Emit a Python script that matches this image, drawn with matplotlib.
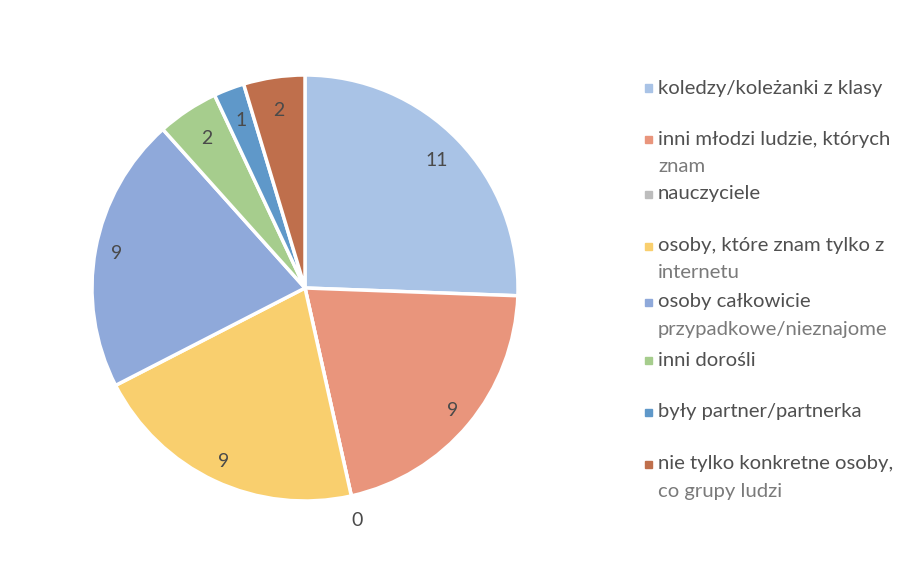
import numpy as np
import matplotlib
matplotlib.use("Agg")
from matplotlib import pyplot as plt

# answers: who was the target
categories = [
    "koledzy/koleżanki z klasy",
    "inni młodzi ludzie, których\nznam",
    "nauczyciele",
    "osoby, które znam tylko z\ninternetu",
    "osoby całkowicie\nprzypadkowe/nieznajome",
    "inni dorośli",
    "były partner/partnerka",
    "nie tylko konkretne osoby,\nco grupy ludzi",
]
counts = [11, 9, 0, 9, 9, 2, 1, 2]
colors = ["#a9c3e6", "#e9957c", "#bdbdbd", "#f9cf6e",
          "#8fa9da", "#a6cd8d", "#5f98c9", "#bf6f4c"]

plt.rcParams['font.family'] = ['Lato', 'DejaVu Sans']

W, H = 920, 562
fig = plt.figure(figsize=(W / 100, H / 100), dpi=100)
fig.patch.set_facecolor("white")

cx, cy, r = 305, 288, 213
ax = fig.add_axes([(cx - r) / W, (H - cy - r) / H, 2 * r / W, 2 * r / H])
wedges, _ = ax.pie(counts, colors=colors, startangle=90, counterclock=False,
                   radius=1, wedgeprops=dict(edgecolor="white", linewidth=2.5))
ax.set_xlim(-1, 1)
ax.set_ylim(-1, 1)
ax.set_aspect("equal")
ax.axis("off")

# value labels inside the slices (zero slice gets its label outside)
for w, v in zip(wedges, counts):
    ang = np.deg2rad((w.theta1 + w.theta2) / 2)
    if v == 0:
        d = 1.12
    elif v >= 9:
        d = 0.9 if v < 10 else 0.86
    else:
        d = 0.84
    ax.text(d * np.cos(ang), d * np.sin(ang), str(v), ha="center", va="center",
            fontsize=14, color="#4a4a4a")

# legend drawn by hand, Excel style
legend_y = [88, 139, 194, 246, 302, 360, 412, 464]
for lab, col, y in zip(categories, colors, legend_y):
    fig.patches.append(plt.Rectangle(((648 - 3.5) / W, (H - y - 3.5) / H), 7 / W, 7 / H,
                                     transform=fig.transFigure, color=col))
    lines = lab.split("\n")
    for i, ln in enumerate(lines):
        fig.text(658 / W, (H - y - i * 27) / H, ln, ha="left", va="center",
                 fontsize=14.6, color="#505050" if i == 0 else "#7a7a7a")

fig.savefig("out.png", dpi=100)
